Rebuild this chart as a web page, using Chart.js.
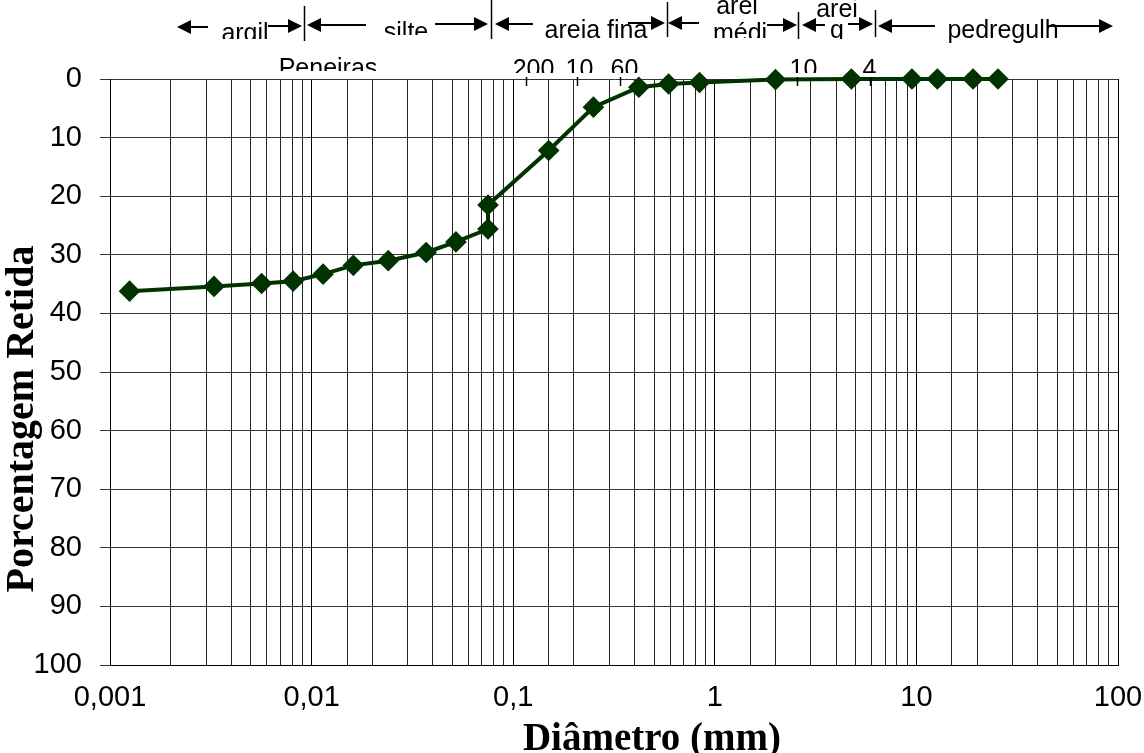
<!DOCTYPE html>
<html>
<head>
<meta charset="utf-8">
<title>Curva granulométrica</title>
<script src="https://cdn.jsdelivr.net/npm/chart.js@4.4.0/dist/chart.umd.min.js"></script>
<style>
  html, body { margin: 0; padding: 0; background: #fff; }
  #wrap { width: 1144px; height: 753px; position: relative; }
</style>
</head>
<body>
<div id="wrap"><canvas id="curva"></canvas></div>
<script>
// ===== dados =====
const diameters = [0.00125, 0.00328, 0.00565, 0.0081, 0.0114, 0.0161, 0.024, 0.037, 0.052, 0.075, 0.075,
                   0.15, 0.25, 0.42, 0.59, 0.84, 2.0, 4.76, 9.5, 12.7, 19.1, 25.4];
const retained = [36.2, 35.4, 34.9, 34.5, 33.3, 31.8, 31.0, 29.6, 27.8, 25.6, 21.5,
                  12.2, 4.8, 1.4, 0.85, 0.6, 0.1, 0, 0, 0, 0, 0];

const xDecades = [0.001, 0.01, 0.1, 1, 10, 100];
const xDecadeLabels = ['0,001', '0,01', '0,1', '1', '10', '100'];

const zoneBounds = [0.00917, 0.0773, 0.577, 2.6, 6.23];
const sieveNames = ['200', '10', '60', '10', '4'];
const sieveSizes = [0.116, 0.207, 0.34, 2.55, 5.9];

const LINE_COLOR = '#003300';

// ===== desenho das faixas (argila, silte...) =====
const sepRanges = [[6, 41], [0, 39], [2, 37], [12, 39], [10, 37]];
const arrows = [
    [177, 208, 27, 'L'], [268, 302, 26, 'R'],
    [307, 366, 25, 'L'], [435, 488, 24, 'R'],
    [495, 533, 24, 'L'], [628, 665, 23, 'R'],
    [668, 699, 23, 'L'], [767, 797, 25, 'R'],
    [802, 825, 25, 'L'], [848, 873, 24, 'R'],
    [878, 935, 26, 'L'], [1048, 1113, 26, 'R']
];
const zoneTexts = [
    { t: 'argil', x: 245, y: 41, clip: 39 },
    { t: 'silte', x: 406, y: 40, clip: 35 },
    { t: 'areia fina', x: 596, y: 38 },
    { t: 'arei', x: 737, y: 14 },
    { t: 'médi', x: 740, y: 41, clip: 38 },
    { t: 'arei', x: 837, y: 17 },
    { t: 'g', x: 837, y: 38, clip: 39 },
    { t: 'pedregulh', x: 1003, y: 38 },
    { t: 'Peneiras', x: 328, y: 76, clip: 71 }
];

function drawText(ctx, item) {
    ctx.save();
    if (item.clip) {
        ctx.beginPath();
        ctx.rect(item.x - 100, 0, 200, item.clip);
        ctx.clip();
    }
    ctx.fillText(item.t, item.x, item.y);
    ctx.restore();
}

function drawArrow(ctx, x1, x2, y, dir) {
    ctx.beginPath();
    ctx.lineWidth = 2;
    if (dir === 'L') {
        ctx.moveTo(x1 + 12, y);
        ctx.lineTo(x2, y);
        ctx.stroke();
        ctx.beginPath();
        ctx.moveTo(x1, y);
        ctx.lineTo(x1 + 14, y - 7);
        ctx.lineTo(x1 + 14, y + 7);
    } else {
        ctx.moveTo(x1, y);
        ctx.lineTo(x2 - 12, y);
        ctx.stroke();
        ctx.beginPath();
        ctx.moveTo(x2, y);
        ctx.lineTo(x2 - 14, y - 7);
        ctx.lineTo(x2 - 14, y + 7);
    }
    ctx.closePath();
    ctx.fill();
}

const annotations = {
    id: 'annotations',
    afterDraw(chart) {
        const ctx = chart.ctx;
        const xs = chart.scales.x;
        const top = chart.chartArea.top;
        ctx.save();
        ctx.fillStyle = '#000';
        ctx.strokeStyle = '#000';
        ctx.font = '25px "Liberation Sans", Arial, sans-serif';
        ctx.textAlign = 'center';
        ctx.textBaseline = 'alphabetic';

        zoneTexts.forEach(item => drawText(ctx, item));
        arrows.forEach(a => drawArrow(ctx, a[0], a[1], a[2], a[3]));

        ctx.lineWidth = 1.5;
        zoneBounds.forEach((b, i) => {
            const px = Math.round(xs.getPixelForValue(b)) + 0.5;
            ctx.beginPath();
            ctx.moveTo(px, sepRanges[i][0]);
            ctx.lineTo(px, sepRanges[i][1]);
            ctx.stroke();
        });

        // peneiras
        const offs = [7, 2, 4, 6, -1];
        sieveSizes.forEach((s, i) => {
            const px = Math.round(xs.getPixelForValue(s)) + 0.5;
            ctx.beginPath();
            ctx.moveTo(px, top - 2);
            ctx.lineTo(px, top + 7);
            ctx.stroke();
            drawText(ctx, { t: sieveNames[i], x: px + offs[i], y: 77, clip: 73 });
        });

        // titulos dos eixos
        ctx.font = 'bold 39px "Liberation Serif", "Times New Roman", serif';
        ctx.fillText('Diâmetro (mm)', 652, 750);
        ctx.save();
        ctx.translate(33, 419);
        ctx.rotate(-Math.PI / 2);
        ctx.font = 'bold 40px "Liberation Serif", "Times New Roman", serif';
        ctx.fillText('Porcentagem Retida', 0, 0);
        ctx.restore();

        ctx.restore();
    }
};

function isDecade(v) {
    const l = Math.log10(v);
    return Math.abs(l - Math.round(l)) < 1e-6;
}

const points = diameters.map((d, i) => ({ x: d, y: retained[i] }));

new Chart(document.getElementById('curva'), {
    type: 'scatter',
    data: {
        datasets: [{
            data: points,
            showLine: true,
            borderColor: LINE_COLOR,
            backgroundColor: LINE_COLOR,
            borderWidth: 4,
            pointStyle: 'rectRot',
            pointRadius: 8,
            pointHoverRadius: 8,
            clip: false
        }]
    },
    options: {
        responsive: true,
        maintainAspectRatio: false,
        animation: false,
        layout: { padding: { top: 79, right: 26, bottom: 0, left: 0 } },
        plugins: {
            legend: { display: false },
            tooltip: { enabled: false }
        },
        scales: {
            x: {
                type: 'logarithmic',
                min: 0.001,
                max: 100,
                afterFit: s => { s.height = 88; s.paddingLeft = 0; s.paddingRight = 0; },
                border: { display: true, color: '#000', width: 1 },
                grid: {
                    color: ctx => (ctx.tick && isDecade(ctx.tick.value)) ? '#000' : '#222',
                    lineWidth: 1,
                    drawTicks: false
                },
                ticks: {
                    autoSkip: false,
                    maxRotation: 0,
                    padding: 16,
                    color: '#000',
                    font: { family: '"Liberation Sans", Arial, sans-serif', size: 29 },
                    callback: function(value) {
                        const idx = xDecades.findIndex(d => Math.abs(d - value) / d < 1e-6);
                        return idx >= 0 ? xDecadeLabels[idx] : '';
                    }
                }
            },
            y: {
                reverse: true,
                min: 0,
                max: 100,
                afterFit: s => { s.width = 110; s.paddingTop = 0; s.paddingBottom = 0; },
                border: { display: true, color: '#000', width: 1 },
                grid: { color: '#333', lineWidth: 1, tickLength: 10 },
                ticks: {
                    stepSize: 10,
                    padding: 18,
                    color: '#000',
                    font: { family: '"Liberation Sans", Arial, sans-serif', size: 29 }
                }
            }
        }
    },
    plugins: [annotations]
});
</script>
</body>
</html>
